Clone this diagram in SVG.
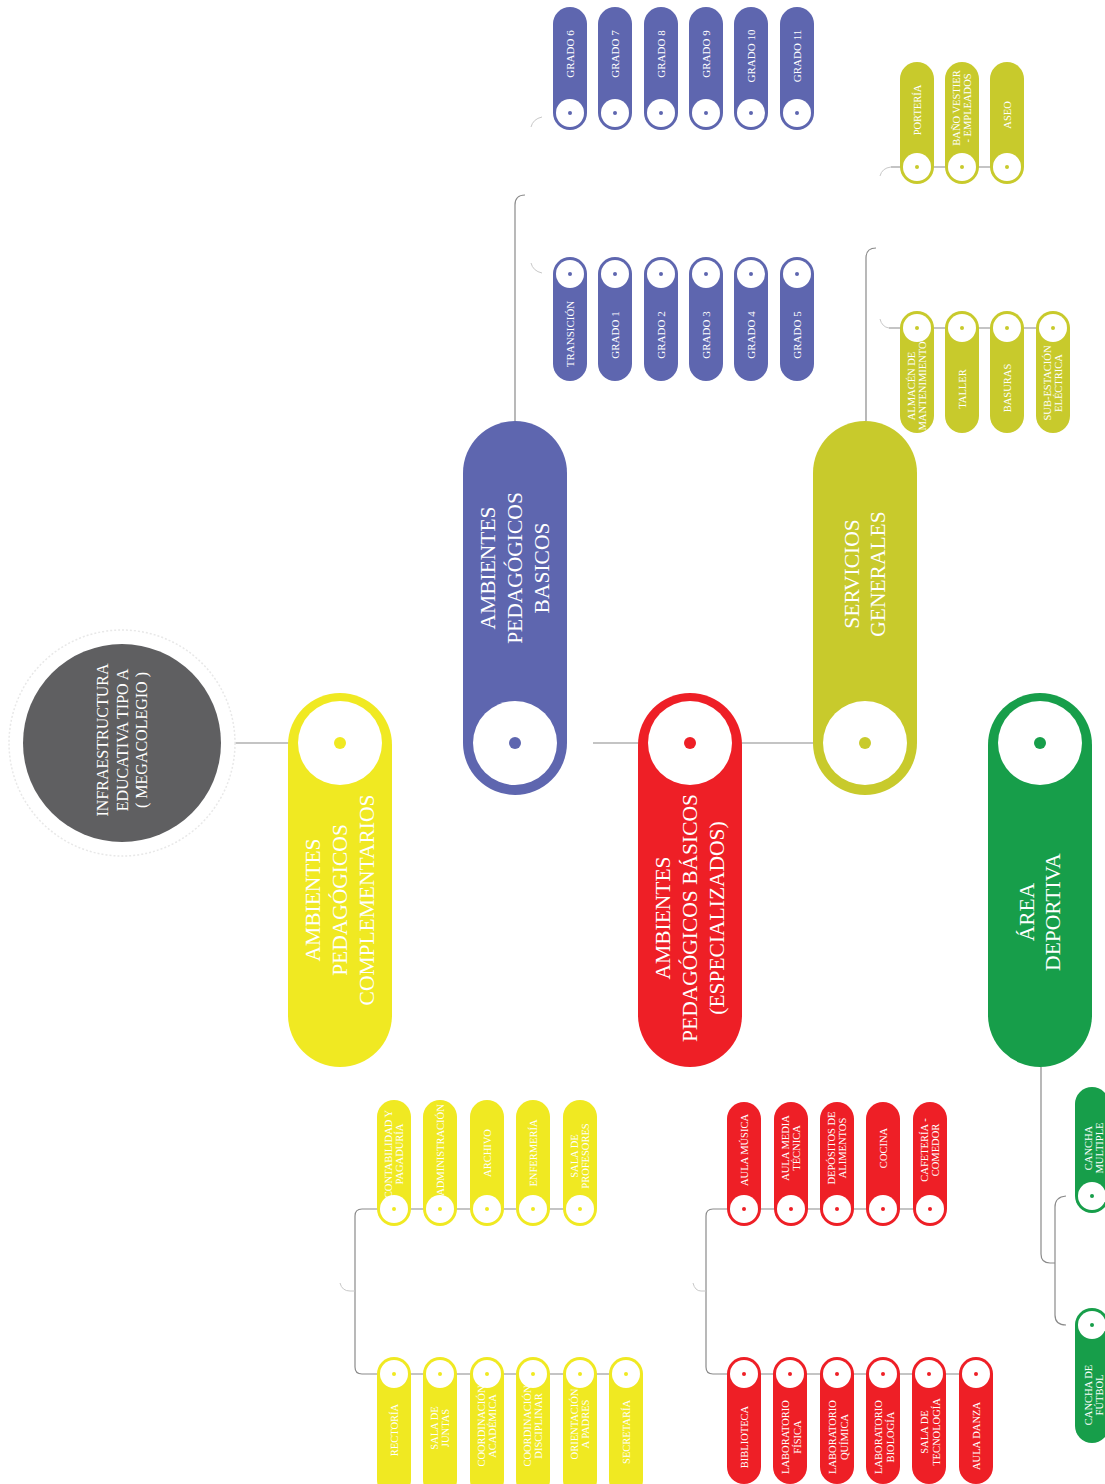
<svg xmlns="http://www.w3.org/2000/svg" width="1105" height="1484" viewBox="0 0 1105 1484">
<style>
text{font-family:"Liberation Serif","Times New Roman",serif;fill:#fff;text-anchor:middle}
.s{font-size:10.5px}
.g{font-size:11px}
.m{font-size:21.5px}
.c{fill:none;stroke:#8a8a8a;stroke-width:1.2}
.cf{fill:none;stroke:#c8c8c8;stroke-width:1}
.w{fill:#fff}
.blue{fill:#5E66AF}.yel{fill:#F0E922}.red{fill:#EE1F26}.oli{fill:#C8CA2C}.grn{fill:#179E4A}
</style>
<rect width="1105" height="1484" fill="#fff"/>

<g id="connectors">
<line class="c" x1="235" y1="743" x2="340" y2="743"/>
<line x1="515" y1="743" x2="560" y2="743" stroke="#e4e4e4" stroke-width="1"/>
<line class="c" x1="593" y1="743" x2="837" y2="743"/>
<path class="c" d="M515,421 V205 Q515,195 525,195"/>
<path class="cf" d="M542,117 Q533,119 531,127"/>
<path class="cf" d="M542,273 Q533,271 531,263"/>
<path class="c" d="M866,421 V258 Q866,248 876,248"/>
<path class="cf" d="M880,176 Q882,168 891,167"/>
<line class="c" x1="891" y1="167" x2="1007" y2="167"/>
<path class="cf" d="M880,319 Q882,327 889,328"/>
<line class="c" x1="889" y1="328" x2="1053" y2="328"/>
<path class="c" d="M580,1209 H362 Q355,1209 355,1216 V1367 Q355,1374 362,1374 H626"/>
<path class="cf" d="M340,1283 Q342,1291 350,1291 H355"/>
<path class="c" d="M930,1209 H713 Q706,1209 706,1216 V1367 Q706,1374 713,1374 H976"/>
<path class="cf" d="M693,1283 Q695,1291 701,1291 H706"/>
<path class="c" d="M1041,1067 V1254 Q1041,1263 1050,1263 H1055"/>
<path class="c" d="M1066,1196 Q1055,1197 1055,1207 V1315 Q1055,1325 1066,1325"/>
</g>

<g id="root">
<circle cx="122" cy="743" r="113" fill="none" stroke="#e8e8e8" stroke-width="1.5" stroke-dasharray="2 2"/>
<circle cx="122" cy="743" r="99" fill="#5F5F61"/>
<text transform="translate(122,740) rotate(-90)" style="font-size:16px"><tspan x="0" y="-14">INFRAESTRUCTURA</tspan><tspan x="0" y="5.5">EDUCATIVA TIPO A</tspan><tspan x="0" y="25">( MEGACOLEGIO )</tspan></text>
</g>

<g id="n-complementarios">
<rect class="yel" x="288" y="693" width="104" height="374" rx="52"/>
<circle class="w" cx="340" cy="743" r="42"/><circle class="yel" cx="340" cy="743" r="6"/>
<text class="m" transform="translate(340,900) rotate(-90)"><tspan x="0" y="-20">AMBIENTES</tspan><tspan x="0" y="7">PEDAGÓGICOS</tspan><tspan x="0" y="34">COMPLEMENTARIOS</tspan></text>
</g>
<g id="n-basicos">
<rect class="blue" x="463" y="421" width="104" height="374" rx="52"/>
<circle class="w" cx="515" cy="743" r="42"/><circle class="blue" cx="515" cy="743" r="6"/>
<text class="m" transform="translate(515,568) rotate(-90)"><tspan x="0" y="-20">AMBIENTES</tspan><tspan x="0" y="7">PEDAGÓGICOS</tspan><tspan x="0" y="34">BASICOS</tspan></text>
</g>
<g id="n-especializados">
<rect class="red" x="638" y="693" width="104" height="374" rx="52"/>
<circle class="w" cx="690" cy="743" r="42"/><circle class="red" cx="690" cy="743" r="6"/>
<text class="m" transform="translate(690,918) rotate(-90)"><tspan x="0" y="-20">AMBIENTES</tspan><tspan x="0" y="7">PEDAGÓGICOS BÁSICOS</tspan><tspan x="0" y="34">(ESPECIALIZADOS)</tspan></text>
</g>
<g id="n-servicios">
<rect class="oli" x="813" y="421" width="104" height="374" rx="52"/>
<circle class="w" cx="865" cy="743" r="42"/><circle class="oli" cx="865" cy="743" r="6"/>
<text class="m" transform="translate(865,574) rotate(-90)"><tspan x="0" y="-6">SERVICIOS</tspan><tspan x="0" y="20">GENERALES</tspan></text>
</g>
<g id="n-deportiva">
<rect class="grn" x="988" y="693" width="104" height="374" rx="52"/>
<circle class="w" cx="1040" cy="743" r="42"/><circle class="grn" cx="1040" cy="743" r="6"/>
<text class="m" transform="translate(1040,912) rotate(-90)"><tspan x="0" y="-6">ÁREA</tspan><tspan x="0" y="20">DEPORTIVA</tspan></text>
</g>

<!-- blue top row -->
<g id="b-grado6"><rect class="blue" x="553" y="7" width="34" height="123" rx="17"/><circle class="w" cx="570" cy="113" r="14"/><circle class="blue" cx="570" cy="113" r="2"/><text class="g" transform="translate(570,54) rotate(-90)" y="4">GRADO 6</text></g>
<g id="b-grado7"><rect class="blue" x="598" y="7" width="34" height="123" rx="17"/><circle class="w" cx="615" cy="113" r="14"/><circle class="blue" cx="615" cy="113" r="2"/><text class="g" transform="translate(615,54) rotate(-90)" y="4">GRADO 7</text></g>
<g id="b-grado8"><rect class="blue" x="644" y="7" width="34" height="123" rx="17"/><circle class="w" cx="661" cy="113" r="14"/><circle class="blue" cx="661" cy="113" r="2"/><text class="g" transform="translate(661,54) rotate(-90)" y="4">GRADO 8</text></g>
<g id="b-grado9"><rect class="blue" x="689" y="7" width="34" height="123" rx="17"/><circle class="w" cx="706" cy="113" r="14"/><circle class="blue" cx="706" cy="113" r="2"/><text class="g" transform="translate(706,54) rotate(-90)" y="4">GRADO 9</text></g>
<g id="b-grado10"><rect class="blue" x="734" y="7" width="34" height="123" rx="17"/><circle class="w" cx="751" cy="113" r="14"/><circle class="blue" cx="751" cy="113" r="2"/><text class="g" transform="translate(751,56) rotate(-90)" y="4">GRADO 10</text></g>
<g id="b-grado11"><rect class="blue" x="780" y="7" width="34" height="123" rx="17"/><circle class="w" cx="797" cy="113" r="14"/><circle class="blue" cx="797" cy="113" r="2"/><text class="g" transform="translate(797,56) rotate(-90)" y="4">GRADO 11</text></g>

<!-- blue bottom row -->
<g id="b-transicion"><rect class="blue" x="553" y="257" width="34" height="124" rx="17"/><circle class="w" cx="570" cy="274" r="14"/><circle class="blue" cx="570" cy="274" r="2"/><text class="g" transform="translate(570,334) rotate(-90)" y="4">TRANSICIÓN</text></g>
<g id="b-grado1"><rect class="blue" x="598" y="257" width="34" height="124" rx="17"/><circle class="w" cx="615" cy="274" r="14"/><circle class="blue" cx="615" cy="274" r="2"/><text class="g" transform="translate(615,335) rotate(-90)" y="4">GRADO 1</text></g>
<g id="b-grado2"><rect class="blue" x="644" y="257" width="34" height="124" rx="17"/><circle class="w" cx="661" cy="274" r="14"/><circle class="blue" cx="661" cy="274" r="2"/><text class="g" transform="translate(661,335) rotate(-90)" y="4">GRADO 2</text></g>
<g id="b-grado3"><rect class="blue" x="689" y="257" width="34" height="124" rx="17"/><circle class="w" cx="706" cy="274" r="14"/><circle class="blue" cx="706" cy="274" r="2"/><text class="g" transform="translate(706,335) rotate(-90)" y="4">GRADO 3</text></g>
<g id="b-grado4"><rect class="blue" x="734" y="257" width="34" height="124" rx="17"/><circle class="w" cx="751" cy="274" r="14"/><circle class="blue" cx="751" cy="274" r="2"/><text class="g" transform="translate(751,335) rotate(-90)" y="4">GRADO 4</text></g>
<g id="b-grado5"><rect class="blue" x="780" y="257" width="34" height="124" rx="17"/><circle class="w" cx="797" cy="274" r="14"/><circle class="blue" cx="797" cy="274" r="2"/><text class="g" transform="translate(797,335) rotate(-90)" y="4">GRADO 5</text></g>

<!-- olive top row -->
<g id="o-porteria"><rect class="oli" x="900" y="62" width="34" height="122" rx="17"/><circle class="w" cx="917" cy="167" r="14"/><circle class="oli" cx="917" cy="167" r="2"/><text class="s" transform="translate(917,110) rotate(-90)" y="4">PORTERÍA</text></g>
<g id="o-bano"><rect class="oli" x="945" y="62" width="34" height="122" rx="17"/><circle class="w" cx="962" cy="167" r="14"/><circle class="oli" cx="962" cy="167" r="2"/><text class="s" transform="translate(962,108) rotate(-90)"><tspan x="0" y="-2">BAÑO VESTIER</tspan><tspan x="0" y="9">- EMPLEADOS</tspan></text></g>
<g id="o-aseo"><rect class="oli" x="990" y="62" width="34" height="122" rx="17"/><circle class="w" cx="1007" cy="167" r="14"/><circle class="oli" cx="1007" cy="167" r="2"/><text class="s" transform="translate(1007,115) rotate(-90)" y="4">ASEO</text></g>

<!-- olive bottom row -->
<g id="o-almacen"><rect class="oli" x="900" y="311" width="34" height="122" rx="17"/><circle class="w" cx="917" cy="328" r="14"/><circle class="oli" cx="917" cy="328" r="2"/><text class="s" transform="translate(917,386) rotate(-90)"><tspan x="0" y="-2">ALMACÉN DE</tspan><tspan x="0" y="9">MANTENIMIENTO</tspan></text></g>
<g id="o-taller"><rect class="oli" x="945" y="311" width="34" height="122" rx="17"/><circle class="w" cx="962" cy="328" r="14"/><circle class="oli" cx="962" cy="328" r="2"/><text class="s" transform="translate(962,389) rotate(-90)" y="4">TALLER</text></g>
<g id="o-basuras"><rect class="oli" x="990" y="311" width="34" height="122" rx="17"/><circle class="w" cx="1007" cy="328" r="14"/><circle class="oli" cx="1007" cy="328" r="2"/><text class="s" transform="translate(1007,388) rotate(-90)" y="4">BASURAS</text></g>
<g id="o-subestacion"><rect class="oli" x="1036" y="311" width="34" height="122" rx="17"/><circle class="w" cx="1053" cy="328" r="14"/><circle class="oli" cx="1053" cy="328" r="2"/><text class="s" transform="translate(1053,383) rotate(-90)"><tspan x="0" y="-2">SUB-ESTACIÓN</tspan><tspan x="0" y="9">ELÉCTRICA</tspan></text></g>

<!-- yellow top row -->
<g id="y-contabilidad"><rect class="yel" x="377" y="1100" width="34" height="126" rx="17"/><circle class="w" cx="394" cy="1209" r="14"/><circle class="yel" cx="394" cy="1209" r="2"/><text class="s" transform="translate(394,1154) rotate(-90)"><tspan x="0" y="-2">CONTABILIDAD Y</tspan><tspan x="0" y="9">PAGADURÍA</tspan></text></g>
<g id="y-administracion"><rect class="yel" x="423" y="1100" width="34" height="126" rx="17"/><circle class="w" cx="440" cy="1209" r="14"/><circle class="yel" cx="440" cy="1209" r="2"/><text class="s" transform="translate(440,1150) rotate(-90)" y="4">ADMINISTRACIÓN</text></g>
<g id="y-archivo"><rect class="yel" x="470" y="1100" width="34" height="126" rx="17"/><circle class="w" cx="487" cy="1209" r="14"/><circle class="yel" cx="487" cy="1209" r="2"/><text class="s" transform="translate(487,1153) rotate(-90)" y="4">ARCHIVO</text></g>
<g id="y-enfermeria"><rect class="yel" x="516" y="1100" width="34" height="126" rx="17"/><circle class="w" cx="533" cy="1209" r="14"/><circle class="yel" cx="533" cy="1209" r="2"/><text class="s" transform="translate(533,1153) rotate(-90)" y="4">ENFERMERÍA</text></g>
<g id="y-profesores"><rect class="yel" x="563" y="1100" width="34" height="126" rx="17"/><circle class="w" cx="580" cy="1209" r="14"/><circle class="yel" cx="580" cy="1209" r="2"/><text class="s" transform="translate(580,1156) rotate(-90)"><tspan x="0" y="-2">SALA DE</tspan><tspan x="0" y="9">PROFESORES</tspan></text></g>

<!-- yellow bottom row -->
<g id="y-rectoria"><rect class="yel" x="377" y="1357" width="34" height="140" rx="17"/><circle class="w" cx="394" cy="1374" r="14"/><circle class="yel" cx="394" cy="1374" r="2"/><text class="s" transform="translate(394,1430) rotate(-90)" y="4">RECTORÍA</text></g>
<g id="y-juntas"><rect class="yel" x="423" y="1357" width="34" height="140" rx="17"/><circle class="w" cx="440" cy="1374" r="14"/><circle class="yel" cx="440" cy="1374" r="2"/><text class="s" transform="translate(440,1428) rotate(-90)"><tspan x="0" y="-2">SALA DE</tspan><tspan x="0" y="9">JUNTAS</tspan></text></g>
<g id="y-academica"><rect class="yel" x="470" y="1357" width="34" height="140" rx="17"/><circle class="w" cx="487" cy="1374" r="14"/><circle class="yel" cx="487" cy="1374" r="2"/><text class="s" transform="translate(487,1426) rotate(-90)"><tspan x="0" y="-2">COORDINACIÓN</tspan><tspan x="0" y="9">ACADÉMICA</tspan></text></g>
<g id="y-disciplinar"><rect class="yel" x="516" y="1357" width="34" height="140" rx="17"/><circle class="w" cx="533" cy="1374" r="14"/><circle class="yel" cx="533" cy="1374" r="2"/><text class="s" transform="translate(533,1426) rotate(-90)"><tspan x="0" y="-2">COORDINACIÓN</tspan><tspan x="0" y="9">DISCIPLINAR</tspan></text></g>
<g id="y-orientacion"><rect class="yel" x="563" y="1357" width="34" height="140" rx="17"/><circle class="w" cx="580" cy="1374" r="14"/><circle class="yel" cx="580" cy="1374" r="2"/><text class="s" transform="translate(580,1424) rotate(-90)"><tspan x="0" y="-2">ORIENTACIÓN</tspan><tspan x="0" y="9">A PADRES</tspan></text></g>
<g id="y-secretaria"><rect class="yel" x="609" y="1357" width="34" height="140" rx="17"/><circle class="w" cx="626" cy="1374" r="14"/><circle class="yel" cx="626" cy="1374" r="2"/><text class="s" transform="translate(626,1432) rotate(-90)" y="4">SECRETARÍA</text></g>

<!-- red top row -->
<g id="r-musica"><rect class="red" x="727" y="1102" width="34" height="124" rx="17"/><circle class="w" cx="744" cy="1209" r="14"/><circle class="red" cx="744" cy="1209" r="2"/><text class="s" transform="translate(744,1150) rotate(-90)" y="4">AULA MÚSICA</text></g>
<g id="r-media"><rect class="red" x="774" y="1102" width="34" height="124" rx="17"/><circle class="w" cx="791" cy="1209" r="14"/><circle class="red" cx="791" cy="1209" r="2"/><text class="s" transform="translate(791,1148) rotate(-90)"><tspan x="0" y="-2">AULA MEDIA</tspan><tspan x="0" y="9">TÉCNICA</tspan></text></g>
<g id="r-depositos"><rect class="red" x="820" y="1102" width="34" height="124" rx="17"/><circle class="w" cx="837" cy="1209" r="14"/><circle class="red" cx="837" cy="1209" r="2"/><text class="s" transform="translate(837,1148) rotate(-90)"><tspan x="0" y="-2">DEPÓSITOS DE</tspan><tspan x="0" y="9">ALIMENTOS</tspan></text></g>
<g id="r-cocina"><rect class="red" x="866" y="1102" width="34" height="124" rx="17"/><circle class="w" cx="883" cy="1209" r="14"/><circle class="red" cx="883" cy="1209" r="2"/><text class="s" transform="translate(883,1148) rotate(-90)" y="4">COCINA</text></g>
<g id="r-cafeteria"><rect class="red" x="913" y="1102" width="34" height="124" rx="17"/><circle class="w" cx="930" cy="1209" r="14"/><circle class="red" cx="930" cy="1209" r="2"/><text class="s" transform="translate(930,1150) rotate(-90)"><tspan x="0" y="-2">CAFETERÍA -</tspan><tspan x="0" y="9">COMEDOR</tspan></text></g>

<!-- red bottom row -->
<g id="r-biblioteca"><rect class="red" x="727" y="1357" width="34" height="127" rx="17"/><circle class="w" cx="744" cy="1374" r="14"/><circle class="red" cx="744" cy="1374" r="2"/><text class="s" transform="translate(744,1437) rotate(-90)" y="4">BIBLIOTECA</text></g>
<g id="r-fisica"><rect class="red" x="773" y="1357" width="34" height="127" rx="17"/><circle class="w" cx="790" cy="1374" r="14"/><circle class="red" cx="790" cy="1374" r="2"/><text class="s" transform="translate(791,1437) rotate(-90)"><tspan x="0" y="-2">LABORATORIO</tspan><tspan x="0" y="10">FÍSICA</tspan></text></g>
<g id="r-quimica"><rect class="red" x="820" y="1357" width="34" height="127" rx="17"/><circle class="w" cx="837" cy="1374" r="14"/><circle class="red" cx="837" cy="1374" r="2"/><text class="s" transform="translate(838,1437) rotate(-90)"><tspan x="0" y="-2">LABORATORIO</tspan><tspan x="0" y="10">QUÍMICA</tspan></text></g>
<g id="r-biologia"><rect class="red" x="866" y="1357" width="34" height="127" rx="17"/><circle class="w" cx="883" cy="1374" r="14"/><circle class="red" cx="883" cy="1374" r="2"/><text class="s" transform="translate(884,1437) rotate(-90)"><tspan x="0" y="-2">LABORATORIO</tspan><tspan x="0" y="10">BIOLOGÍA</tspan></text></g>
<g id="r-tecnologia"><rect class="red" x="912" y="1357" width="34" height="127" rx="17"/><circle class="w" cx="929" cy="1374" r="14"/><circle class="red" cx="929" cy="1374" r="2"/><text class="s" transform="translate(930,1432) rotate(-90)"><tspan x="0" y="-2">SALA DE</tspan><tspan x="0" y="10">TECNOLOGÍA</tspan></text></g>
<g id="r-danza"><rect class="red" x="959" y="1357" width="34" height="127" rx="17"/><circle class="w" cx="976" cy="1374" r="14"/><circle class="red" cx="976" cy="1374" r="2"/><text class="s" transform="translate(976,1436) rotate(-90)" y="4">AULA DANZA</text></g>

<!-- green -->
<g id="g-multiple"><rect class="grn" x="1075" y="1087" width="34" height="126" rx="17"/><circle class="w" cx="1092" cy="1196" r="14"/><circle class="grn" cx="1092" cy="1196" r="2"/><text class="s" transform="translate(1093,1148) rotate(-90)"><tspan x="0" y="-1">CANCHA</tspan><tspan x="0" y="10">MULTIPLE</tspan></text></g>
<g id="g-futbol"><rect class="grn" x="1075" y="1308" width="34" height="135" rx="17"/><circle class="w" cx="1092" cy="1325" r="14"/><circle class="grn" cx="1092" cy="1325" r="2"/><text class="s" transform="translate(1093,1395) rotate(-90)"><tspan x="0" y="-1">CANCHA DE</tspan><tspan x="0" y="10">FÚTBOL</tspan></text></g>
</svg>
